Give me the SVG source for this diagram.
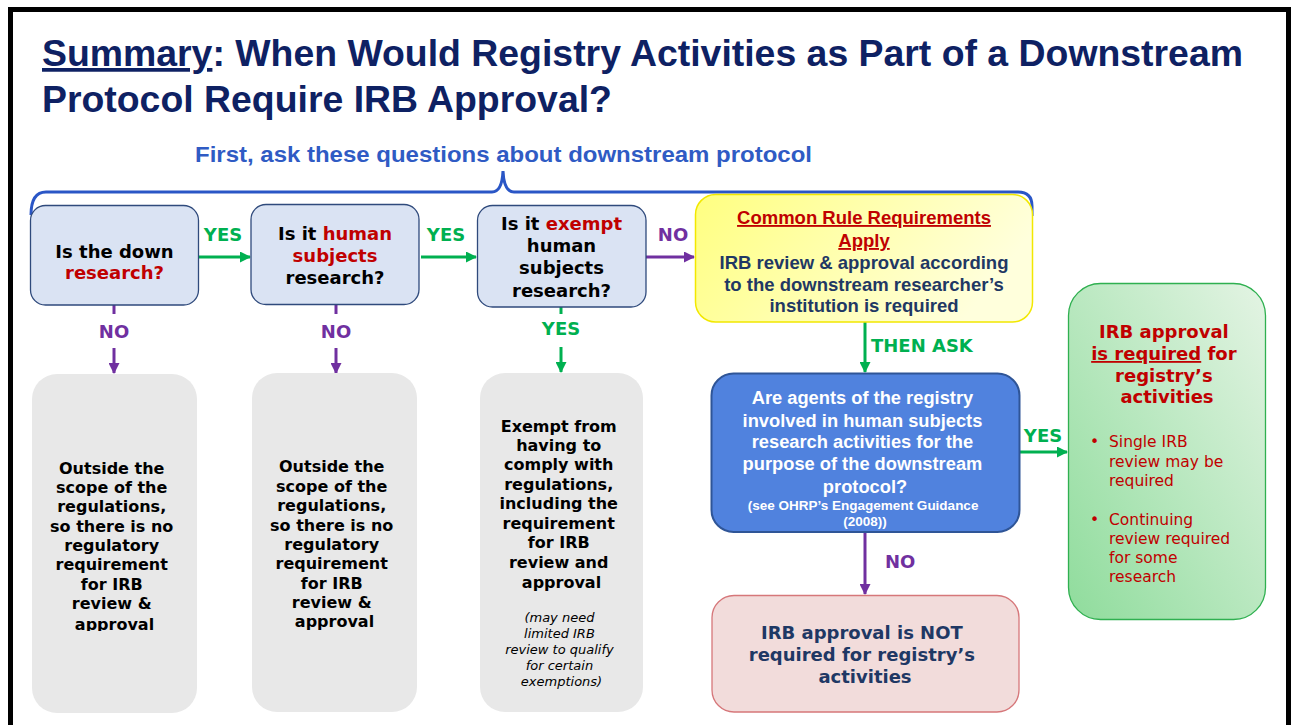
<svg xmlns="http://www.w3.org/2000/svg" width="1291" height="725" viewBox="0 0 1291 725">
<style>
.t{font-family:"Liberation Sans",Arial,sans-serif;font-weight:bold}
.v{font-family:"DejaVu Sans",Verdana,sans-serif}
.vb{font-family:"DejaVu Sans",Verdana,sans-serif;font-weight:bold}
.q{fill:#dae3f3;stroke:#2f4a7c;stroke-width:1.3}
.g{fill:#e8e8e8}
.red{fill:#c00000}
.navy{fill:#1f3864}
.gl{stroke:#00b050;stroke-width:3;fill:none}
.pl{stroke:#7030a0;stroke-width:3;fill:none}
.ga{stroke:#00b050;stroke-width:3;fill:none;marker-end:url(#ag)}
.pa{stroke:#7030a0;stroke-width:3;fill:none;marker-end:url(#ap)}
.gt{fill:#00b050}
.pt{fill:#7030a0}
</style>
<defs>
<marker id="ag" markerUnits="userSpaceOnUse" markerWidth="11" markerHeight="11" refX="10" refY="5.5" orient="auto"><path d="M0,0 L11,5.5 L0,11 z" fill="#00b050"/></marker>
<marker id="ap" markerUnits="userSpaceOnUse" markerWidth="11" markerHeight="11" refX="10" refY="5.5" orient="auto"><path d="M0,0 L11,5.5 L0,11 z" fill="#7030a0"/></marker>
<linearGradient id="yg" x1="0" y1="0" x2="1" y2="0.3"><stop offset="0" stop-color="#ffff80"/><stop offset="1" stop-color="#ffffdc"/></linearGradient>
<linearGradient id="gg" x1="0" y1="1" x2="1" y2="0"><stop offset="0" stop-color="#8fdc9c"/><stop offset="1" stop-color="#e4f4e4"/></linearGradient>
<clipPath id="clipA"><rect x="20" y="370" width="190" height="261"/></clipPath>
</defs>
<rect width="1291" height="725" fill="#fff"/>
<path d="M10.5,725 V9.5 H1288.5 V725" fill="none" stroke="#000" stroke-width="5"/>

<g id="title">
<text class="t" x="42" y="66" font-size="37.4" fill="#0e2163"><tspan text-decoration="underline">Summary</tspan>: When Would Registry Activities as Part of a Downstream</text>
<text class="t" x="42" y="112" font-size="37.4" fill="#0e2163">Protocol Require IRB Approval?</text>
</g>

<g id="brace">
<text class="t" x="195" y="162" font-size="22.5" fill="#2f5bc4" textLength="617" lengthAdjust="spacingAndGlyphs">First, ask these questions about downstream protocol</text>
<path d="M31,215 Q31,192 46,192 L492,192 Q502,192 503,171 Q504,192 514,192 L1018,192 Q1032,192 1032,206 L1032,216" fill="none" stroke="#2a56c6" stroke-width="3"/>
</g>

<g id="connectors">
<path class="ga" d="M199,257 H250"/>
<text class="vb gt" x="223" y="241" font-size="18" text-anchor="middle">YES</text>
<path class="ga" d="M421,257 H476"/>
<text class="vb gt" x="446" y="241" font-size="18" text-anchor="middle">YES</text>
<path class="pa" d="M646,257 H694"/>
<text class="vb pt" x="673" y="241" font-size="18" text-anchor="middle">NO</text>

<path class="pl" d="M114,305 V314"/>
<text class="vb pt" x="114" y="338" font-size="18" text-anchor="middle">NO</text>
<path class="pa" d="M114,348 V373"/>
<path class="pl" d="M336,305 V314"/>
<text class="vb pt" x="336" y="338" font-size="18" text-anchor="middle">NO</text>
<path class="pa" d="M336,348 V373"/>
<path class="gl" d="M561,307 V314"/>
<text class="vb gt" x="561" y="335" font-size="18" text-anchor="middle">YES</text>
<path class="ga" d="M561,347 V372"/>

<path class="ga" d="M865,322 V372"/>
<text class="vb gt" x="871" y="352" font-size="18">THEN ASK</text>
<path class="pa" d="M865,532 V594"/>
<text class="vb pt" x="885" y="568" font-size="18">NO</text>
<path class="ga" d="M1019,452 H1067"/>
<text class="vb gt" x="1043" y="442" font-size="18" text-anchor="middle">YES</text>
</g>

<g id="q1">
<rect class="q" x="30.5" y="205.5" width="168" height="99.5" rx="15"/>
<text class="vb" x="114.5" y="258" font-size="18" text-anchor="middle" fill="#000">Is the down</text>
<text class="vb red" x="114.5" y="279" font-size="18" text-anchor="middle">research?</text>
</g>

<g id="q2">
<rect class="q" x="251" y="204.5" width="168" height="100" rx="15"/>
<text class="vb" x="335" y="240" font-size="18" text-anchor="middle" fill="#000">Is it <tspan class="red">human</tspan></text>
<text class="vb red" x="335" y="262" font-size="18" text-anchor="middle">subjects</text>
<text class="vb" x="335" y="284" font-size="18" text-anchor="middle" fill="#000">research?</text>
</g>

<g id="q3">
<rect class="q" x="477.5" y="205.5" width="168.5" height="101.5" rx="15"/>
<text class="vb" x="561.5" y="230" font-size="18" text-anchor="middle" fill="#000">Is it <tspan class="red">exempt</tspan></text>
<text class="vb" x="561.5" y="252" font-size="18" text-anchor="middle" fill="#000">human</text>
<text class="vb" x="561.5" y="274" font-size="18" text-anchor="middle" fill="#000">subjects</text>
<text class="vb" x="561.5" y="297" font-size="18" text-anchor="middle" fill="#000">research?</text>
</g>

<g id="commonRule">
<rect x="695.5" y="194.5" width="337" height="127.5" rx="20" fill="url(#yg)" stroke="#f2e800" stroke-width="1.5"/>
<text class="t red" x="864" y="224" font-size="18.5" text-anchor="middle" text-decoration="underline">Common Rule Requirements</text>
<text class="t red" x="864" y="247" font-size="18.5" text-anchor="middle" text-decoration="underline">Apply</text>
<text class="t navy" x="864" y="269" font-size="18.5" text-anchor="middle">IRB review &amp; approval according</text>
<text class="t navy" x="864" y="291" font-size="18.5" text-anchor="middle">to the downstream researcher’s</text>
<text class="t navy" x="864" y="312" font-size="18.5" text-anchor="middle">institution is required</text>
</g>

<g id="outA">
<rect class="g" x="32" y="374" width="165" height="339" rx="25"/>
<g clip-path="url(#clipA)">
<text class="vb" font-size="16" text-anchor="middle" fill="#000">
<tspan x="114.5" y="474">Outside the</tspan>
<tspan x="114.5" y="493">scope of the</tspan>
<tspan x="114.5" y="512">regulations,</tspan>
<tspan x="114.5" y="532">so there is no</tspan>
<tspan x="114.5" y="551">regulatory</tspan>
<tspan x="114.5" y="570">requirement</tspan>
<tspan x="114.5" y="590">for IRB</tspan>
<tspan x="114.5" y="609">review &amp;</tspan>
<tspan x="114.5" y="630">approval</tspan>
</text>
</g>
</g>

<g id="outB">
<rect class="g" x="252" y="373" width="165" height="339" rx="25"/>
<text class="vb" font-size="16" text-anchor="middle" fill="#000">
<tspan x="334.5" y="472">Outside the</tspan>
<tspan x="334.5" y="492">scope of the</tspan>
<tspan x="334.5" y="511">regulations,</tspan>
<tspan x="334.5" y="531">so there is no</tspan>
<tspan x="334.5" y="550">regulatory</tspan>
<tspan x="334.5" y="569">requirement</tspan>
<tspan x="334.5" y="589">for IRB</tspan>
<tspan x="334.5" y="608">review &amp;</tspan>
<tspan x="334.5" y="627">approval</tspan>
</text>
</g>

<g id="exempt">
<rect class="g" x="480" y="373" width="163" height="339" rx="25"/>
<text class="vb" font-size="16" text-anchor="middle" fill="#000">
<tspan x="561.5" y="432">Exempt from</tspan>
<tspan x="561.5" y="451">having to</tspan>
<tspan x="561.5" y="470">comply with</tspan>
<tspan x="561.5" y="490">regulations,</tspan>
<tspan x="561.5" y="509">including the</tspan>
<tspan x="561.5" y="529">requirement</tspan>
<tspan x="561.5" y="548">for IRB</tspan>
<tspan x="561.5" y="568">review and</tspan>
<tspan x="561.5" y="588">approval</tspan>
</text>
<text class="v" font-size="13" font-style="italic" text-anchor="middle" fill="#000">
<tspan x="561.5" y="622">(may need</tspan>
<tspan x="561.5" y="638">limited IRB</tspan>
<tspan x="561.5" y="654">review to qualify</tspan>
<tspan x="561.5" y="670">for certain</tspan>
<tspan x="561.5" y="686">exemptions)</tspan>
</text>
</g>

<g id="agents">
<rect x="711.5" y="373.5" width="308" height="158.5" rx="22" fill="#5082de" stroke="#2f5597" stroke-width="2"/>
<text class="t" font-size="18.3" text-anchor="middle" fill="#fff">
<tspan x="865" y="404">Are agents of the registry</tspan>
<tspan x="865" y="427">involved in human subjects</tspan>
<tspan x="865" y="448">research activities for the</tspan>
<tspan x="865" y="470">purpose of the downstream</tspan>
<tspan x="865" y="493">protocol?</tspan>
</text>
<text class="t" font-size="13.5" text-anchor="middle" fill="#fff">
<tspan x="865" y="510">(see OHRP’s Engagement Guidance</tspan>
<tspan x="865" y="526">(2008))</tspan>
</text>
</g>

<g id="notRequired">
<rect x="712" y="595.5" width="307" height="116.5" rx="22" fill="#f2dcdb" stroke="#d6777a" stroke-width="1.3"/>
<text class="vb navy" font-size="18" text-anchor="middle">
<tspan x="865" y="639">IRB approval is NOT</tspan>
<tspan x="865" y="661">required for registry’s</tspan>
<tspan x="865" y="683">activities</tspan>
</text>
</g>

<g id="required">
<rect x="1068.5" y="283.5" width="197" height="336" rx="32" fill="url(#gg)" stroke="#2fb050" stroke-width="1.3"/>
<text class="vb red" font-size="18" text-anchor="middle">
<tspan x="1167" y="338">IRB approval</tspan>
<tspan x="1167" y="360"><tspan text-decoration="underline">is required</tspan> for</tspan>
<tspan x="1167" y="382">registry’s</tspan>
<tspan x="1167" y="403">activities</tspan>
</text>
<text class="v red" font-size="15.5">
<tspan x="1090" y="447">•</tspan>
<tspan x="1109" y="447">Single IRB</tspan>
<tspan x="1109" y="467">review may be</tspan>
<tspan x="1109" y="486">required</tspan>
<tspan x="1090" y="525">•</tspan>
<tspan x="1109" y="525">Continuing</tspan>
<tspan x="1109" y="544">review required</tspan>
<tspan x="1109" y="563">for some</tspan>
<tspan x="1109" y="582">research</tspan>
</text>
</g>
</svg>
